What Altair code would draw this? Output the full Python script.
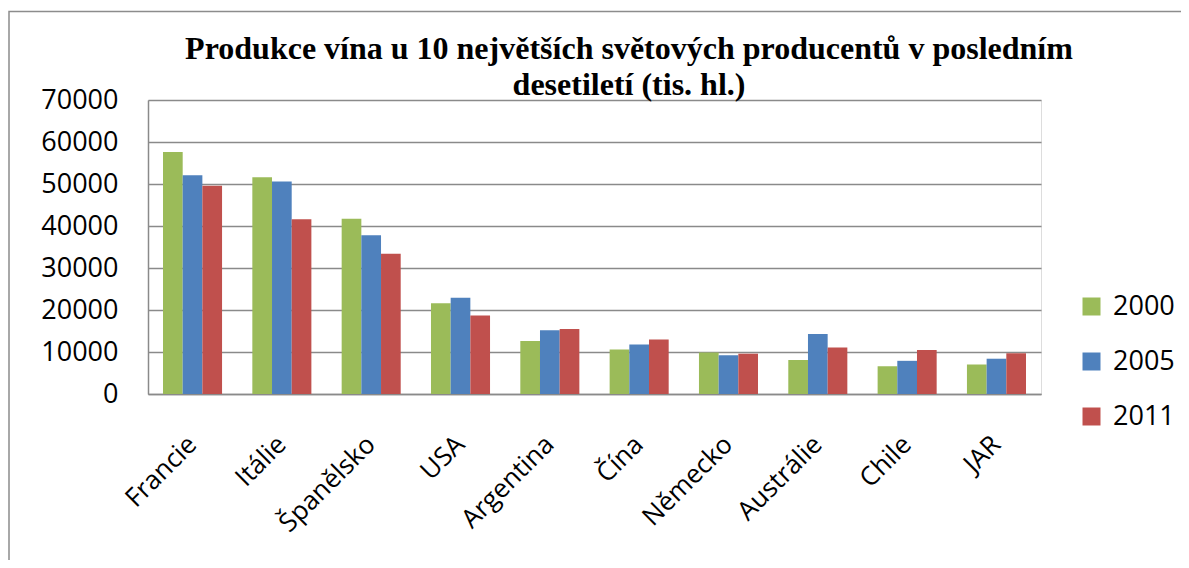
import altair as alt
import pandas as pd

countries = ["Francie", "Itálie", "Španělsko", "USA", "Argentina", "Čína", "Německo", "Austrálie", "Chile", "JAR"]
years = ["2000", "2005", "2011"]
v2000 = [57600, 51600, 41700, 21600, 12600, 10600, 9900, 8100, 6600, 7000]
v2005 = [52100, 50600, 37800, 22900, 15200, 11800, 9200, 14300, 7900, 8400]
v2011 = [49600, 41600, 33400, 18700, 15500, 13000, 9600, 11100, 10500, 9700]
colors = ["#9BBB59", "#4F81BD", "#C0504D"]
y_ticks = [0, 10000, 20000, 30000, 40000, 50000, 60000, 70000]
title_lines = ["Produkce vína u 10 největších světových producentů v posledním",
               "desetiletí (tis. hl.)"]

rows = []
for yr, vals in zip(years, [v2000, v2005, v2011]):
    for c, v in zip(countries, vals):
        rows.append({"stat": c, "rok": yr, "hodnota": v})
df = pd.DataFrame(rows)

GRID = "#8a8a8a"
LABEL_FONT = "Open Sans"

bars = alt.Chart(df).mark_bar().encode(
    x=alt.X("stat:N", sort=countries,
            scale=alt.Scale(paddingInner=0.339, paddingOuter=0.168),
            axis=alt.Axis(title=None, ticks=False, domain=True, domainColor=GRID,
                          domainWidth=1.5, labelAngle=315, labelAlign="right",
                          labelBaseline="middle", labelPadding=46,
                          labelFont=LABEL_FONT, labelFontSize=26, labelColor="black",
                          grid=False)),
    xOffset=alt.XOffset("rok:N", sort=years, scale=alt.Scale(paddingInner=0, paddingOuter=0)),
    y=alt.Y("hodnota:Q", scale=alt.Scale(domain=[0, 70000], nice=False),
            axis=alt.Axis(title=None, values=y_ticks, format="d", ticks=False,
                          domain=True, domainColor=GRID, domainWidth=1.5,
                          gridColor=GRID, gridWidth=1.5, labelPadding=30,
                          labelFont=LABEL_FONT, labelFontSize=27, labelColor="black")),
    color=alt.Color("rok:N", sort=years,
                    scale=alt.Scale(domain=years, range=colors),
                    legend=alt.Legend(title=None, orient="none", legendX=930, legendY=193,
                                      direction="vertical", symbolType="square",
                                      symbolSize=324, symbolStrokeWidth=0,
                                      labelFont=LABEL_FONT, labelFontSize=27,
                                      labelColor="black", labelOffset=8,
                                      rowPadding=27, padding=0)),
)

frame = alt.Chart(pd.DataFrame({"a": [0]})).mark_rect(
    filled=False, stroke="#8c8c8c", strokeWidth=1.5
).encode(
    x=alt.value(-139), x2=alt.value(1200),
    y=alt.value(-88.5), y2=alt.value(600),
)

title = alt.Chart(pd.DataFrame({"a": [0]})).mark_text(
    font="Liberation Serif", fontSize=32, fontWeight="bold", color="black",
    align="center", baseline="alphabetic", lineHeight=36,
).encode(
    x=alt.value(481), y=alt.value(-41.5),
    text=alt.value(title_lines),
)

chart = alt.layer(frame, bars, title).properties(
    width=893, height=294,
    autosize=alt.AutoSizeParams(type="none"),
    padding={"left": 140, "top": 92, "right": 140, "bottom": 166},
).configure_view(stroke=None).configure(background="white")

chart.save("out.html", embed_options={"renderer": "svg", "actions": False})
